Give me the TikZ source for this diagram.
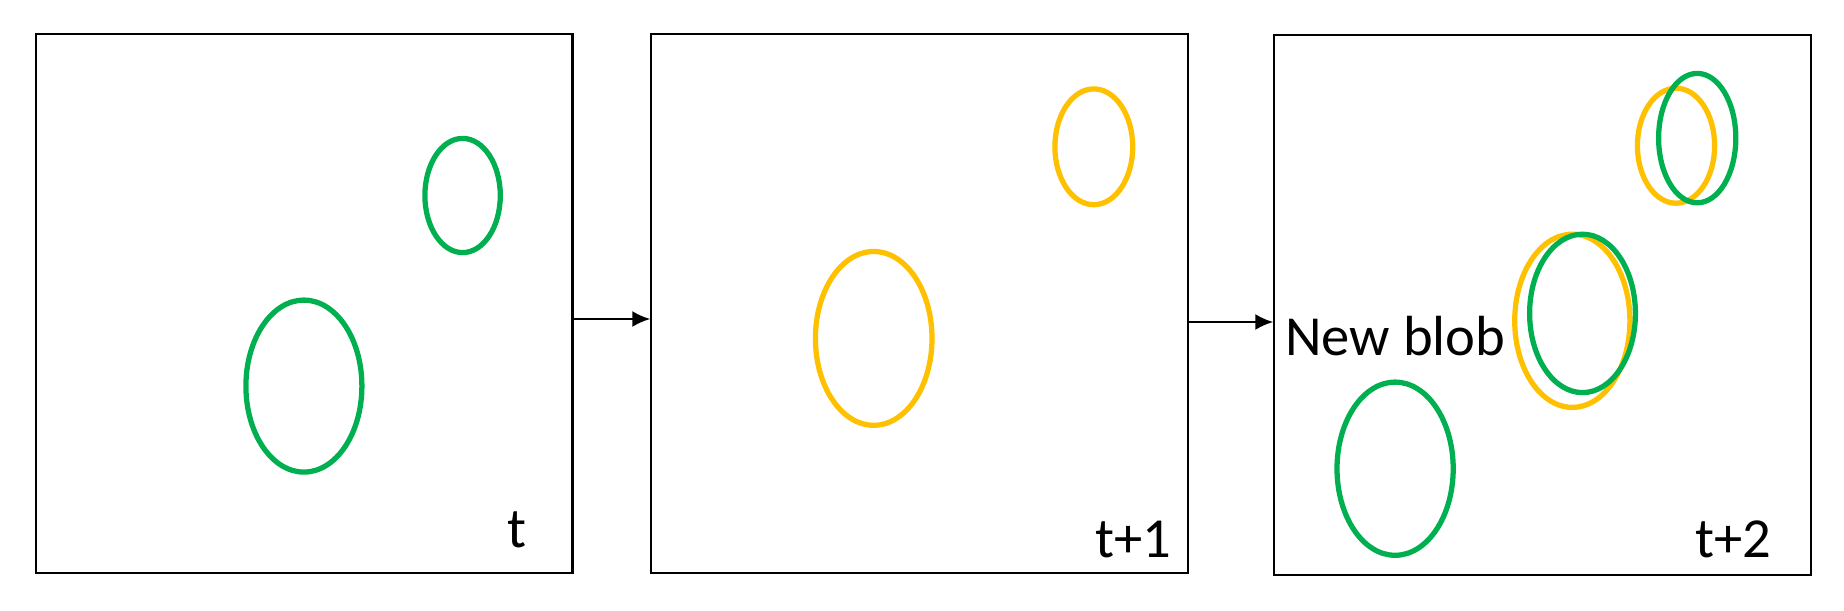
\documentclass[tikz,border=0pt]{standalone}
\usepackage{fontspec}
\setmainfont{Carlito}
\usetikzlibrary{positioning, calc, arrows.meta}

\definecolor{blobgreen}{HTML}{00B050}
\definecolor{blobgold}{HTML}{FFC000}

\begin{document}
\begin{tikzpicture}[x=0.02cm, y=-0.02cm, font=\fontsize{32.2}{38}\selectfont]
            % Define styles
            \tikzstyle{frame} = [rectangle, draw, line width=1.2pt, minimum width=10.73cm, minimum height=10.78cm, inner sep=0pt]
            \tikzstyle{flow} = [line width=1.2pt, -{Latex[length=0.36cm, width=0.32cm]}]
            \tikzstyle{oldblob} = [draw=blobgold, line width=3pt]
            \tikzstyle{newblob} = [draw=blobgreen, line width=3pt]
            \tikzstyle{stamp} = [anchor=base west, inner sep=0pt]

            \useasboundingbox (0,0) rectangle (1844,611);

            % Place frames
            \node [frame] (frame_t) at (304.25,303.5) {};
            \node [frame] (frame_t1) at (919.5,303.5) {};
            \node [frame, minimum height=10.79cm] (frame_t2) at (1542.5,305) {};

            % Blobs at t
            \draw [newblob] (462.6,195.5) ellipse [x radius=37.7, y radius=57.1];
            \draw [newblob] (303.9,386.1) ellipse [x radius=58, y radius=86];

            % Blobs at t+1
            \draw [oldblob] (1093.8,146.8) ellipse [x radius=38.9, y radius=57.9];
            \draw [oldblob] (873.7,338.4) ellipse [x radius=58.3, y radius=86.9];

            % Blobs at t+2
            \draw [oldblob] (1676,145.7) ellipse [x radius=38.6, y radius=57.5];
            \draw [oldblob] (1572.3,320.8) ellipse [x radius=57.6, y radius=86.6];
            \draw [newblob] (1697.2,138.1) ellipse [x radius=38.6, y radius=64.7];
            \draw [newblob] (1582.5,313.4) ellipse [x radius=52.9, y radius=79.2];
            \draw [newblob] (1395.1,468.7) ellipse [x radius=58.1, y radius=86.6];

            % Time stamps
            \node [stamp] (lbl_t) at (507.5,547) {t};
            \node [stamp] (lbl_t1) at (1095.5,557) {t+1};
            \node [stamp] (lbl_t2) at (1695,557) {t+2};
            \node [stamp] (lbl_new) at (1285,355.3) {New blob};

            % Draw connections as arrows
            \coordinate (out_t) at ([yshift=-0.31cm]frame_t.east);
            \coordinate (out_t1) at ([yshift=-0.37cm]frame_t1.east);
            \draw [flow] (out_t) -- (out_t -| frame_t1.west);
            \draw [flow] (out_t1) -- (out_t1 -| frame_t2.west);

        \end{tikzpicture}
\end{document}
